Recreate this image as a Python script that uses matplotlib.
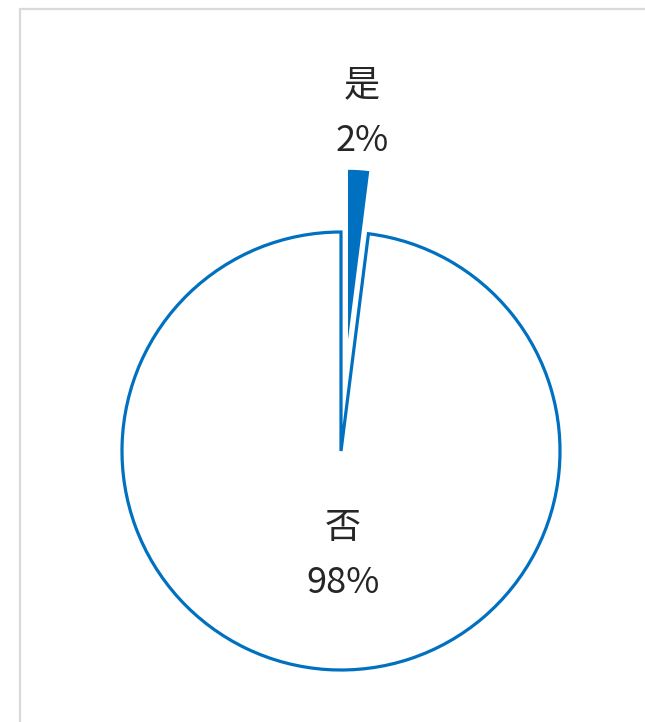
import numpy as np
import matplotlib.pyplot as plt
from matplotlib.patches import Rectangle

plt.rcParams['font.family'] = ['Noto Sans CJK SC', 'DejaVu Sans']

# data
labels = ['是', '否']
values = [2, 98]
pct_labels = ['2%', '98%']

BLUE = '#0070C0'
TEXT = '#262626'

W, H = 645, 722
fig = plt.figure(figsize=(W / 100, H / 100), dpi=100)
ax = fig.add_axes([0, 0, 1, 1])

cx, cy = 341, H - 451
R = 219

# explode is in data units in matplotlib, so scale by the radius
wedges, _ = ax.pie(values, startangle=90, counterclock=False,
                   center=(cx, cy), radius=R, explode=[0.51 * R, 0],
                   colors=[BLUE, 'white'],
                   wedgeprops=dict(edgecolor=BLUE, linewidth=2.3))
# the pulled-out slice is drawn smaller, like in the original
wedges[0].set_radius(R * 0.775)
wedges[0].set_linewidth(0)

# label anchors, in units of the radius, relative to the pie centre
anchors = [(0.096, 1.545), (0.01, -0.475)]
for lab, pct, (ax_, ay_) in zip(labels, pct_labels, anchors):
    x = cx + ax_ * R
    y = cy + ay_ * R
    ax.text(x, y + 27, lab, ha='center', va='center', fontsize=26, color=TEXT)
    ax.text(x, y - 28, pct, ha='center', va='center', fontsize=26, color=TEXT)

# light frame around the chart area (runs off the right and bottom)
ax.add_patch(Rectangle((20, -50), W + 100, H - 9 + 50, fill=False,
                       edgecolor='#d9d9d9', linewidth=1.6))

ax.set_xlim(0, W)
ax.set_ylim(0, H)
ax.set_aspect('equal')
ax.axis('off')

fig.savefig('out.png', dpi=100)
